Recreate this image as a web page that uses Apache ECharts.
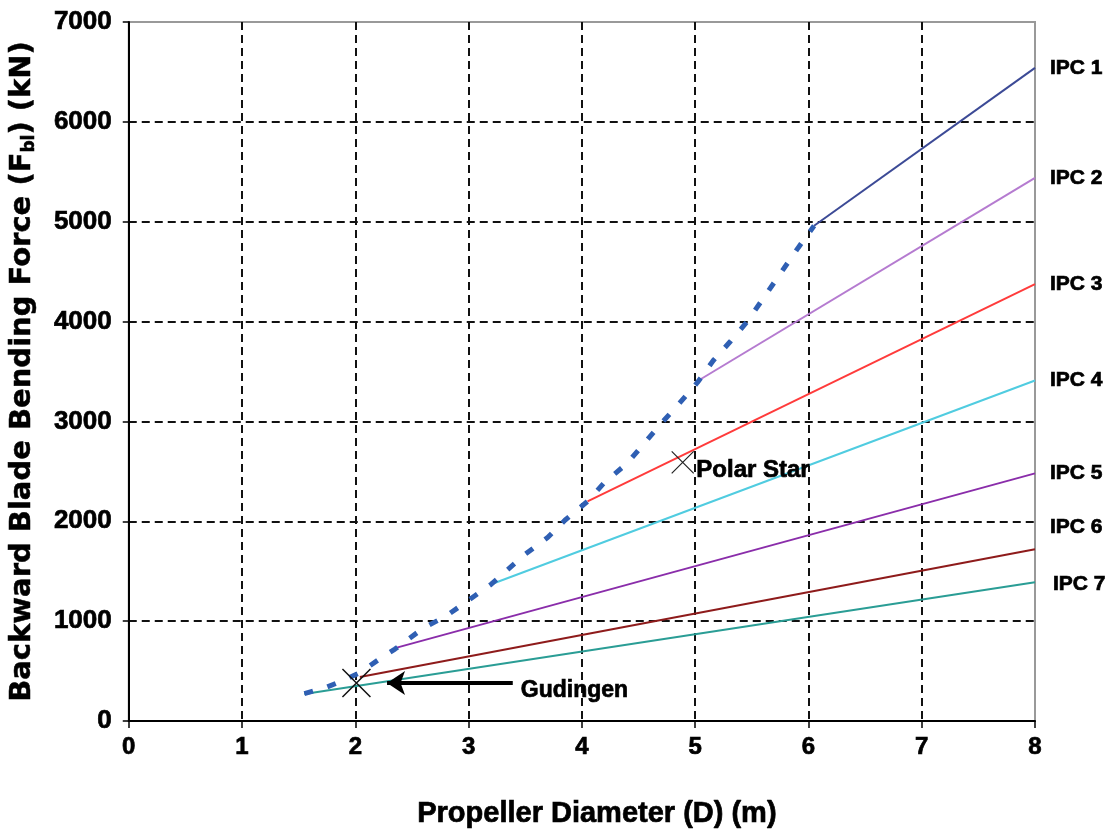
<!DOCTYPE html>
<html>
<head>
<meta charset="utf-8">
<script src="https://cdn.jsdelivr.net/npm/echarts@6/dist/echarts.min.js"></script>
<style>
html,body{margin:0;padding:0;background:#fff;}
#c{width:1107px;height:834px;}
</style>
</head>
<body>
<div id="c"></div>
<script>
// ---- data ----
const ipcNames = ['IPC 1','IPC 2','IPC 3','IPC 4','IPC 5','IPC 6','IPC 7'];
const ipcStartD = [6.05, 5.0, 4.05, 3.2, 2.35, 2.04, 1.55];
const ipcStartF = [4960, 3390, 2200, 1370, 730, 440, 270];
const ipcEndD = [8, 8, 8, 8, 8, 8, 8];
const ipcEndF = [6540, 5440, 4376, 3410, 2480, 1720, 1390];
const ipcColors = ['#3C4A96','#B57BD0','#FF3B3B','#50CCE0','#8A2DAA','#8E1B1B','#2A9D95'];

const boundaryD = [1.55, 1.75, 1.9, 2.05, 2.2, 2.35, 2.6, 2.8, 2.95, 3.2, 3.5, 3.7, 3.85, 4.05, 4.2, 4.4, 4.55, 4.7, 4.86, 5.02, 5.16, 5.31, 5.46, 5.6, 5.77, 5.91, 6.05];
const boundaryF = [275, 340, 410, 490, 610, 720, 930, 1050, 1170, 1370, 1670, 1840, 2010, 2200, 2390, 2580, 2780, 2980, 3180, 3390, 3610, 3800, 4000, 4230, 4510, 4740, 4960];

const gudingenPoint = [2.01, 380];
const polarStarPoint = [4.89, 2590];
const arrowFrom = [3.39, 380];
const arrowTo = [2.28, 380];

const xTicks = {min: 0, max: 8, interval: 1};
const yTicks = {min: 0, max: 7000, interval: 1000};

// ---- chart ----
const sans = "'Liberation Sans',Arial,sans-serif";
const heavy = {color: '#000', fontFamily: sans, fontWeight: 'bold', textBorderColor: '#000', textBorderWidth: 0.7};
const chart = echarts.init(document.getElementById('c'), null, {renderer: 'canvas'});
const xMark = 'path://M0,0L10,10M10,0L0,10';

const series = ipcNames.map((n, i) => ({
  name: n,
  type: 'line',
  symbol: 'none',
  data: [[ipcStartD[i], ipcStartF[i]], [ipcEndD[i], ipcEndF[i]]],
  lineStyle: {color: ipcColors[i], width: 2},
  itemStyle: {color: ipcColors[i]},
  z: 3,
  endLabel: Object.assign({
    show: true,
    formatter: n,
    distance: 15,
    fontSize: 21,
    offset: i === 5 ? [0, -22] : (i === 6 ? [3, 2] : [0, 0])
  }, heavy)
}));

series.push({
  name: 'boundary',
  type: 'line',
  symbol: 'none',
  data: boundaryD.map((d, i) => [d, boundaryF[i]]),
  lineStyle: {color: '#2F5FB3', width: 5, type: [9, 15]},
  z: 5
});

series.push({
  name: 'Gudingen',
  type: 'scatter',
  symbol: xMark,
  symbolSize: 28,
  data: [gudingenPoint],
  itemStyle: {color: 'rgba(0,0,0,0)', borderColor: '#111', borderWidth: 1.5, opacity: 1},
  z: 6,
  markLine: {
    silent: true,
    symbol: ['none', 'arrow'],
    symbolSize: 18,
    lineStyle: {color: '#000', width: 4, type: 'solid', opacity: 1},
    label: Object.assign({
      show: true,
      position: 'start',
      formatter: 'Gudingen',
      distance: 8,
      offset: [0, 8],
      fontSize: 23
    }, heavy),
    data: [[{coord: arrowFrom}, {coord: arrowTo}]]
  }
});

series.push({
  name: 'Polar Star',
  type: 'scatter',
  symbol: xMark,
  symbolSize: 22,
  data: [polarStarPoint],
  itemStyle: {color: 'rgba(0,0,0,0)', borderColor: '#222', borderWidth: 1.2, opacity: 1},
  z: 6,
  label: Object.assign({
    show: true,
    position: 'right',
    distance: 2,
    offset: [0, 8],
    formatter: 'Polar Star',
    fontSize: 24
  }, heavy)
});

const titleFont = {color: '#000', fontFamily: "'DejaVu Sans',sans-serif", fontWeight: 'bold', textBorderColor: '#000', textBorderWidth: 0.5};

chart.setOption({
  animation: false,
  backgroundColor: '#fff',
  grid: {left: 127, right: 72, top: 22, bottom: 113, show: true, borderColor: '#999', borderWidth: 2},
  xAxis: {
    type: 'value',
    min: xTicks.min, max: xTicks.max, interval: xTicks.interval,
    name: 'Propeller Diameter (D) (m)',
    nameLocation: 'middle',
    nameGap: 78,
    nameTextStyle: Object.assign({fontSize: 29, padding: [0, 0, 0, 30]}, heavy),
    axisLine: {show: true, onZero: false, lineStyle: {color: '#000', width: 2}},
    axisTick: {show: true, inside: false, length: 7, lineStyle: {color: '#000', width: 1.5}},
    axisLabel: Object.assign({fontSize: 24, margin: 14}, heavy),
    splitLine: {show: true, showMinLine: false, showMaxLine: false, lineStyle: {color: '#111', width: 2, type: [8, 5]}}
  },
  yAxis: {
    type: 'value',
    min: yTicks.min, max: yTicks.max, interval: yTicks.interval,
    name: '{a|Backward Blade Bending Force (F}{s|bl}{a|) (kN)}',
    nameLocation: 'middle',
    nameGap: 91,
    nameTextStyle: {
      rich: {
        a: Object.assign({fontSize: 29}, titleFont),
        s: Object.assign({fontSize: 17, padding: [13, 0, 0, 0]}, titleFont)
      }
    },
    axisLine: {show: true, onZero: false, lineStyle: {color: '#000', width: 2}},
    axisTick: {show: true, inside: false, length: 6, lineStyle: {color: '#000', width: 1.5}},
    axisLabel: Object.assign({fontSize: 26, margin: 17, formatter: v => String(v)}, heavy),
    splitLine: {show: true, showMinLine: false, showMaxLine: false, lineStyle: {color: '#111', width: 2, type: [8, 5]}}
  },
  series: series
});
</script>
</body>
</html>
